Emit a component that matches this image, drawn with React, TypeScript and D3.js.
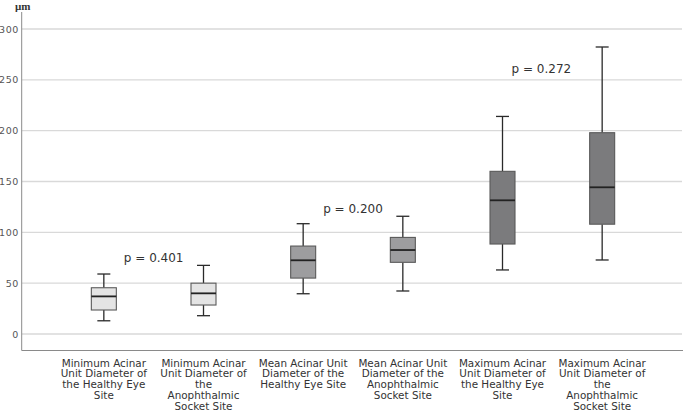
import React from "react";
import * as d3 from "d3";

const categories = [
  "Minimum Acinar Unit Diameter of the Healthy Eye Site",
  "Minimum Acinar Unit Diameter of the Anophthalmic Socket Site",
  "Mean Acinar Unit Diameter of the Healthy Eye Site",
  "Mean Acinar Unit Diameter of the Anophthalmic Socket Site",
  "Maximum Acinar Unit Diameter of the Healthy Eye Site",
  "Maximum Acinar Unit Diameter of the Anophthalmic Socket Site",
];
const labelLines = [
  ["Minimum Acinar", "Unit Diameter of", "the Healthy Eye", "Site"],
  ["Minimum Acinar", "Unit Diameter of", "the", "Anophthalmic", "Socket Site"],
  ["Mean Acinar Unit", "Diameter of the", "Healthy Eye Site"],
  ["Mean Acinar Unit", "Diameter of the", "Anophthalmic", "Socket Site"],
  ["Maximum Acinar", "Unit Diameter of", "the Healthy Eye", "Site"],
  ["Maximum Acinar", "Unit Diameter of", "the", "Anophthalmic", "Socket Site"],
];
const whiskerLow = [13, 18, 39.6, 42.3, 63, 72.8];
const q1 = [23.6, 28.5, 55, 70.5, 88.5, 108];
const median = [37, 40, 72.5, 82.6, 131.5, 144.3];
const q3 = [45.5, 50, 86.5, 95, 160, 198];
const whiskerHigh = [59, 67.5, 108.5, 115.8, 214, 282.3];
const boxColors = ["#e4e4e4", "#e4e4e4", "#9d9d9f", "#9d9d9f", "#7b7b7d", "#7b7b7d"];
const yTicks = [0, 50, 100, 150, 200, 250, 300];
const pLabels = ["p = 0.401", "p = 0.200", "p = 0.272"];
const pY = [75.5, 123, 260.5];
const pX = [0.5, 2.5, 4.39]; // position in category index space (between pairs)

export default function App() {
  const W = 685, H = 411;
  const y = d3.scaleLinear().domain([0, 300]).range([334, 29]);
  const x = d3.scaleBand<string>().domain(categories).range([54, 652]).padding(0);
  const cx = (i: number) => (x(categories[i]) as number) + x.bandwidth() / 2;
  const xIdx = d3.scaleLinear().domain([0, 5]).range([cx(0), cx(5)]);
  const boxW = 25;
  const capW = 13;
  const font = "'DejaVu Sans', Verdana, sans-serif";
  return (
    <svg width={W} height={H} style={{ position: "absolute", left: 0, top: 0, display: "block", background: "#fff" }}>
      {yTicks.map((t) => (
        <g key={t}>
          <line x1={22} x2={682} y1={y(t)} y2={y(t)} stroke="#d9d9d9" strokeWidth={1.4} />
          <text x={19} y={y(t) + 3.5} textAnchor="end" fontSize={9.5} fill="#555" fontFamily={font} letterSpacing={0.6}>
            {t}
          </text>
        </g>
      ))}
      <line x1={21.7} x2={21.7} y1={12} y2={350.5} stroke="#8a8a8a" strokeWidth={1} />
      <line x1={21.7} x2={683} y1={350.5} y2={350.5} stroke="#8a8a8a" strokeWidth={1} />
      <text x={15} y={9.5} fontSize={11} fontFamily="'Liberation Serif', 'DejaVu Serif', serif" fontWeight="bold" fill="#333">
        µm
      </text>
      {categories.map((c, i) => {
        const xc = cx(i);
        return (
          <g key={c}>
            <line x1={xc} x2={xc} y1={y(whiskerHigh[i])} y2={y(q3[i])} stroke="#2a2a2a" strokeWidth={1.3} />
            <line x1={xc} x2={xc} y1={y(q1[i])} y2={y(whiskerLow[i])} stroke="#2a2a2a" strokeWidth={1.3} />
            <line x1={xc - capW / 2} x2={xc + capW / 2} y1={y(whiskerHigh[i])} y2={y(whiskerHigh[i])} stroke="#2a2a2a" strokeWidth={1.3} />
            <line x1={xc - capW / 2} x2={xc + capW / 2} y1={y(whiskerLow[i])} y2={y(whiskerLow[i])} stroke="#2a2a2a" strokeWidth={1.3} />
            <rect x={xc - boxW / 2} y={y(q3[i])} width={boxW} height={y(q1[i]) - y(q3[i])} fill={boxColors[i]} stroke="#5a5a5a" strokeWidth={1.1} />
            <line x1={xc - boxW / 2} x2={xc + boxW / 2} y1={y(median[i])} y2={y(median[i])} stroke="#222" strokeWidth={1.8} />
            {labelLines[i].map((ln, j) => (
              <text key={j} x={xc} y={366.5 + j * 10.8} textAnchor="middle" fontSize={10.4} fill="#333" fontFamily={font}>
                {ln}
              </text>
            ))}
          </g>
        );
      })}
      {pLabels.map((p, i) => (
        <text key={p} x={xIdx(pX[i])} y={y(pY[i]) + 4.3} textAnchor="middle" fontSize={12} fill="#333" fontFamily={font}>
          {p}
        </text>
      ))}
    </svg>
  );
}
